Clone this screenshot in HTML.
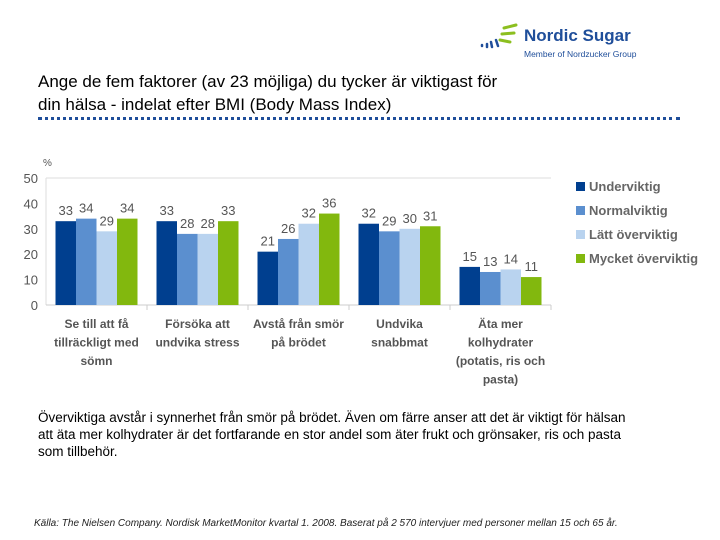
<!DOCTYPE html>
<html><head><meta charset="utf-8"><style>
body{margin:0;width:720px;height:540px;background:#fff;font-family:"Liberation Sans",sans-serif;position:relative;overflow:hidden}
.t{position:absolute}
</style></head><body>
<div class="t" style="left:478px;top:22px;width:180px;height:40px">
<svg width="180" height="40">
<g stroke="#8cbf1f" stroke-width="3" stroke-linecap="round"><line x1="26" y1="6" x2="38" y2="3"/><line x1="24" y1="12" x2="36" y2="11"/><line x1="22" y1="18" x2="32" y2="20"/></g>
<g stroke="#1f4e9a" stroke-width="2.5" stroke-linecap="round"><line x1="18" y1="18" x2="20" y2="24"/><line x1="13" y1="20" x2="14" y2="25"/><line x1="9" y1="22" x2="9" y2="25"/><line x1="4" y1="23" x2="4" y2="24"/></g>
<text x="46" y="19" font-family="Liberation Sans" font-size="17" font-weight="bold" fill="#1f4e9a">Nordic Sugar</text>
<text x="46" y="35" font-family="Liberation Sans" font-size="8.5" fill="#1f4e9a">Member of Nordzucker Group</text>
</svg></div>
<div class="t" style="left:38px;top:70px;font-size:17px;line-height:23px;color:#000">Ange de fem faktorer (av 23 möjliga) du tycker är viktigast för<br>din hälsa - indelat efter BMI (Body Mass Index)</div>
<div class="t" style="left:38px;top:117px;width:642px;height:0;border-top:3px dotted #1f4e9a"></div>
<svg class="t" style="left:0;top:0" width="720" height="400" id="chart"></svg>
<div class="t" style="left:38px;top:409px;font-size:13.5px;line-height:17px;color:#000;width:615px">Överviktiga avstår i synnerhet från smör på brödet. Även om färre anser att det är viktigt för hälsan<br>att äta mer kolhydrater är det fortfarande en stor andel som äter frukt och grönsaker, ris och pasta<br>som tillbehör.</div>
<div class="t" style="left:34px;top:518px;font-size:10px;font-style:italic;color:#222;white-space:nowrap">Källa: The Nielsen Company. Nordisk MarketMonitor kvartal 1. 2008. Baserat på 2 570 intervjuer med personer mellan 15 och 65 år.</div>
<script>
const categories=[["Se till att få","tillräckligt med","sömn"],["Försöka att","undvika stress"],["Avstå från smör","på brödet"],["Undvika","snabbmat"],["Äta mer","kolhydrater","(potatis, ris och","pasta)"]];
const seriesNames=["Underviktig","Normalviktig","Lätt överviktig","Mycket överviktig"];
const under=[33,33,21,32,15];
const normal=[34,28,26,29,13];
const latt=[29,28,32,30,14];
const mycket=[34,33,36,31,11];
const yTicks=[0,10,20,30,40,50];
const colors=["#003f8f","#5b8fcf","#b9d3ef","#82b80e"];
const series=[under,normal,latt,mycket];
const NS="http://www.w3.org/2000/svg";
const svg=document.getElementById("chart");
const x0=46,x1=551,y0=305,y1=178;
const gw=(x1-x0)/categories.length,bw=20.5;
const Y=v=>y0-(v/50)*(y0-y1);
function el(t,a,txt){const e=document.createElementNS(NS,t);for(const k in a)e.setAttribute(k,a[k]);if(txt!=null)e.textContent=txt;svg.appendChild(e);return e;}
let e=el("line",{x1:x0,x2:x1,y1:y1,y2:y1,stroke:"#ddd"});

e=el("line",{x1:x0,x2:x0,y1:y1,y2:y0,stroke:"#ddd"});

e=el("line",{x1:x0,x2:x1,y1:y0,y2:y0,stroke:"#ccc"});

e=el("text",{x:43,y:166,"font-size":10,fill:"#555"},"%");

yTicks.forEach(v=>{const t=el("text",{x:38,y:Y(v)+5,"text-anchor":"end","font-size":13,fill:"#555"},v);
});
categories.forEach((c,i)=>{
 const gx=x0+i*gw;
 const tk=el("line",{x1:gx+gw,x2:gx+gw,y1:y0,y2:y0+5,stroke:"#ccc"});
 
 series.forEach((s,j)=>{
  const bx=gx+(gw-4*bw)/2+j*bw;
  const r=el("rect",{x:bx,y:Y(s[i]),width:bw,height:y0-Y(s[i]),fill:colors[j]});
  
  const l=el("text",{x:bx+bw/2,y:Y(s[i])-6,"text-anchor":"middle","font-size":13,fill:"#555"},s[i]);
  
 });
 c.forEach((ln,k)=>{const t=el("text",{x:gx+gw/2,y:328+k*18.5,"text-anchor":"middle","font-size":12,"font-weight":"bold",fill:"#555"},ln);
 });
});
seriesNames.forEach((n,j)=>{
 const ly=189+j*24;
 const r=el("rect",{x:576,y:ly-7,width:9,height:9,fill:colors[j]});
 
 const t=el("text",{x:589,y:ly+2,"font-size":13,"font-weight":"bold",fill:"#666"},n);
 
});
</script>
</body></html>
